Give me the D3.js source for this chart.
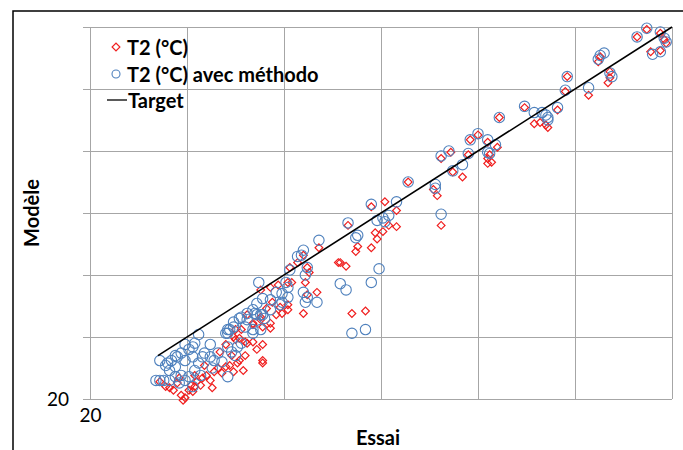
<!DOCTYPE html>
<meta charset="utf-8">
<style>
    body { margin: 0; background: #fff; }
    text { font-family: Lato, "Open Sans", sans-serif; }
    .grid line { stroke: #a6a6a6; stroke-width: 1; }
    .grid path { display: none; }
    .tick text { font-size: 19px; fill: #000; }
    .lbl { font-size: 20px; font-weight: bold; fill: #000; }
</style>
<svg width="683" height="450"></svg>
<script src="https://d3js.org/d3.v7.min.js"></script>
<script>

    // T2 (°C): essai (x) vs modèle (y)
    var redX = [23.9,24.1,24.3,24.7,24.9,25.1,25.3,25.4,25.5,25.7,25.8,26.0,26.3,26.4,26.6,26.8,27.0,27.2,27.4,27.6,27.7,27.9,28.0,27.5,27.7,28.0,28.1,28.4,28.6,28.9,28.9,28.9,28.4,28.8,28.1,24.8,24.5,25.2,23.6,26.2,27.3,27.0,27.5,29.3,24.6,25.4,26.7,25.9,
                32.8,31.8,31.0,30.7,30.3,30.4,30.2,31.2,31.3,31.1,31.2,31.7,31.0,29.7,29.3,28.8,29.4,29.8,30.2,29.1,28.8,28.4,28.9,27.8,27.4,30.2,29.9,29.6,29.3,
                35.2,34.5,36.4,35.8,33.3,35.4,35.8,35.1,34.7,34.8,33.8,33.7,34.5,32.9,33.2,33.5,34.2,37.7,37.9,38.1,
                42.4,42.9,43.2,43.5,44.1,41.1,40.0,39.6,40.5,41.0,40.6,40.5,40.5,40.7,39.5,38.6,38.1,38.7,39.2,
                48.2,48.7,49.4,49.6,49.7,48.9,49.4,46.3,46.2,46.8,46.8,46.7,44.6,44.5,45.7,43.6];
    var redY = [21.0,20.9,20.7,20.3,20.1,20.7,20.6,21.0,21.4,21.1,21.7,21.9,20.9,22.2,22.5,22.1,22.6,22.7,22.2,22.9,23.1,22.3,23.5,24.8,24.9,24.6,24.5,24.6,24.0,24.4,23.1,22.9,26.1,26.4,26.8,19.9,21.3,21.1,21.4,21.5,23.5,24.4,25.6,25.7,21.7,21.9,23.8,22.7,
                31.0,32.2,31.6,31.0,30.6,29.4,29.4,30.6,30.2,29.4,28.4,28.6,26.9,29.2,29.0,28.8,27.8,27.4,27.2,27.3,26.6,26.0,25.8,25.6,25.0,27.6,26.9,26.8,26.1,
                35.9,35.5,37.5,35.2,34.0,34.0,33.9,33.5,33.4,32.9,32.3,31.9,32.2,31.0,30.7,26.9,27.1,36.9,36.4,34.0,
                43.5,42.2,42.3,42.1,43.3,42.7,41.3,40.9,40.7,40.3,39.7,39.4,39.0,39.1,39.7,39.9,39.4,38.3,37.9,
                49.2,49.8,49.5,49.0,48.7,48.0,48.1,47.6,47.2,46.4,45.9,45.5,46.0,44.8,44.5,41.9];

    // T2 (°C) avec méthodo
    var blueX = [23.6,23.9,24.0,24.2,24.4,24.1,23.6,23.8,24.5,24.7,24.9,25.1,25.4,25.3,24.7,24.9,25.1,24.6,25.3,25.4,25.6,25.8,25.9,26.2,26.4,26.6,26.8,26.3,27.0,27.1,27.3,27.5,27.1,27.4,27.8,28.1,28.5,28.8,29.0,27.6,25.6,25.3,24.4,27.8,28.4,27.1,24.4,24.9,24.1,25.7,26.2,23.4,
                 31.8,31.0,30.9,30.7,31.2,31.1,31.0,31.2,31.7,31.1,28.7,30.1,30.2,30.2,29.6,29.9,30.3,29.9,28.9,29.3,28.6,28.4,28.1,27.7,27.4,28.6,28.9,29.3,29.8,27.2,27.1,28.0,28.4,28.8,
                 34.5,33.3,33.8,33.7,34.8,35.1,35.2,35.4,35.8,36.4,37.8,37.8,38.1,34.9,34.5,32.9,33.2,33.5,34.2,
                 42.4,42.9,43.3,43.6,44.1,41.1,40.0,39.6,40.5,40.9,40.5,40.6,39.5,38.5,38.1,39.2,38.7,
                 48.2,48.7,49.4,49.6,49.7,49.0,49.4,46.3,46.5,46.2,46.8,46.9,44.6,44.5,45.7,43.5,43.6];
    var blueY = [23.1,22.7,22.9,23.1,22.6,22.3,21.5,21.5,23.4,23.7,23.1,24.0,24.5,23.4,21.9,21.5,21.8,21.3,21.0,22.3,22.9,23.4,23.7,23.4,23.1,23.7,23.0,22.5,25.3,24.2,23.8,23.5,25.6,25.8,26.6,26.4,26.9,26.8,26.5,24.2,25.2,24.2,21.8,24.5,25.3,21.8,23.5,24.4,21.5,21.9,24.4,21.5,
                 32.8,32.0,31.6,31.5,30.6,30.0,28.6,28.2,27.8,27.8,29.4,29.4,29.0,28.2,28.6,28.5,30.4,27.8,28.1,28.0,27.7,27.2,26.9,26.5,26.2,26.8,26.8,27.2,27.6,25.6,25.3,25.8,25.6,25.6,
                 35.7,34.2,33.2,33.0,34.4,34.6,34.3,34.8,35.9,37.5,37.3,37.0,34.9,30.5,29.4,29.3,28.8,25.3,25.6,
                 43.6,43.1,43.1,42.7,43.5,42.7,41.4,40.9,40.9,40.5,39.9,39.8,39.8,40.0,39.6,38.9,38.4,
                 49.2,49.9,49.6,49.1,48.8,47.8,48.0,47.7,47.9,47.4,46.3,46.0,46.0,44.9,45.1,42.9,42.5];

    // Target: y = x
    var targetX = [23.5, 50];
    var ticks = [20, 25, 30, 35, 40, 45, 50];

    var svg = d3.select("svg"),
        margin = {top: 27, right: 11, bottom: 51, left: 90},
        width = +svg.attr("width") - margin.left - margin.right,
        height = +svg.attr("height") - margin.top - margin.bottom;

    var x = d3.scaleLinear().domain([20, 50]).range([0, width]),
        y = d3.scaleLinear().domain([20, 50]).range([height, 0]);

    // outer frame (left and top edges only are in view)
    svg.append("path")
        .attr("d", "M13,450V11H683")
        .attr("fill", "none")
        .attr("stroke", "#000")
        .attr("stroke-width", 1.5);

    var g = svg.append("g")
        .attr("transform", "translate(" + margin.left + "," + margin.top + ")");

    g.append("g")
        .attr("class", "grid")
        .attr("transform", "translate(0," + height + ")")
        .call(d3.axisBottom(x).tickValues(ticks).tickSize(-height).tickPadding(10)
            .tickFormat(function(d) { return d === 20 ? "20" : ""; }));

    g.append("g")
        .attr("class", "grid")
        .attr("transform", "translate(-7,0)")
        .call(d3.axisLeft(y).tickValues(ticks).tickSize(-(width + 7)).tickPadding(14)
            .tickFormat(function(d) { return d === 20 ? "20" : ""; }));

    // square rotated 45° = Excel diamond marker
    var diamond = d3.symbol().type(d3.symbolSquare).size(30);

    g.selectAll(".red")
        .data(redX)
        .enter().append("path")
        .attr("class", "red")
        .attr("d", diamond)
        .attr("transform", function(d, i) { return "translate(" + x(d) + "," + y(redY[i]) + ") rotate(45)"; })
        .attr("fill", "none")
        .attr("stroke", "#f01e1e")
        .attr("stroke-width", 1.2);

    g.selectAll(".blue")
        .data(blueX)
        .enter().append("circle")
        .attr("class", "blue")
        .attr("cx", function(d) { return x(d); })
        .attr("cy", function(d, i) { return y(blueY[i]); })
        .attr("r", 5.2)
        .attr("fill", "none")
        .attr("stroke", "#4f81bd")
        .attr("stroke-width", 1.1);

    g.append("path")
        .datum(targetX)
        .attr("d", d3.line().x(function(d) { return x(d); }).y(function(d) { return y(d); }))
        .attr("fill", "none")
        .attr("stroke", "#000")
        .attr("stroke-width", 1.6);

    // legend
    var lg = svg.append("g").attr("transform", "translate(116,47)");
    lg.append("path").attr("d", diamond).attr("transform", "rotate(45)")
        .attr("fill", "none").attr("stroke", "#f01e1e").attr("stroke-width", 1.2);
    lg.append("text").attr("class", "lbl").attr("x", 11).attr("y", 8).text("T2 (°C)");
    lg.append("circle").attr("cy", 27).attr("r", 4)
        .attr("fill", "none").attr("stroke", "#4f81bd").attr("stroke-width", 1.1);
    lg.append("text").attr("class", "lbl").attr("x", 11).attr("y", 35).text("T2 (°C) avec méthodo");
    lg.append("line").attr("x1", -9).attr("x2", 11).attr("y1", 53).attr("y2", 53)
        .attr("stroke", "#000").attr("stroke-width", 1.3);
    lg.append("text").attr("class", "lbl").attr("x", 12).attr("y", 61).text("Target");

    // axis titles
    svg.append("text").attr("class", "lbl")
        .attr("text-anchor", "middle")
        .attr("transform", "translate(39,213) rotate(-90)")
        .text("Modèle");
    svg.append("text").attr("class", "lbl")
        .attr("text-anchor", "middle")
        .attr("x", 378).attr("y", 445)
        .text("Essai");
</script>
